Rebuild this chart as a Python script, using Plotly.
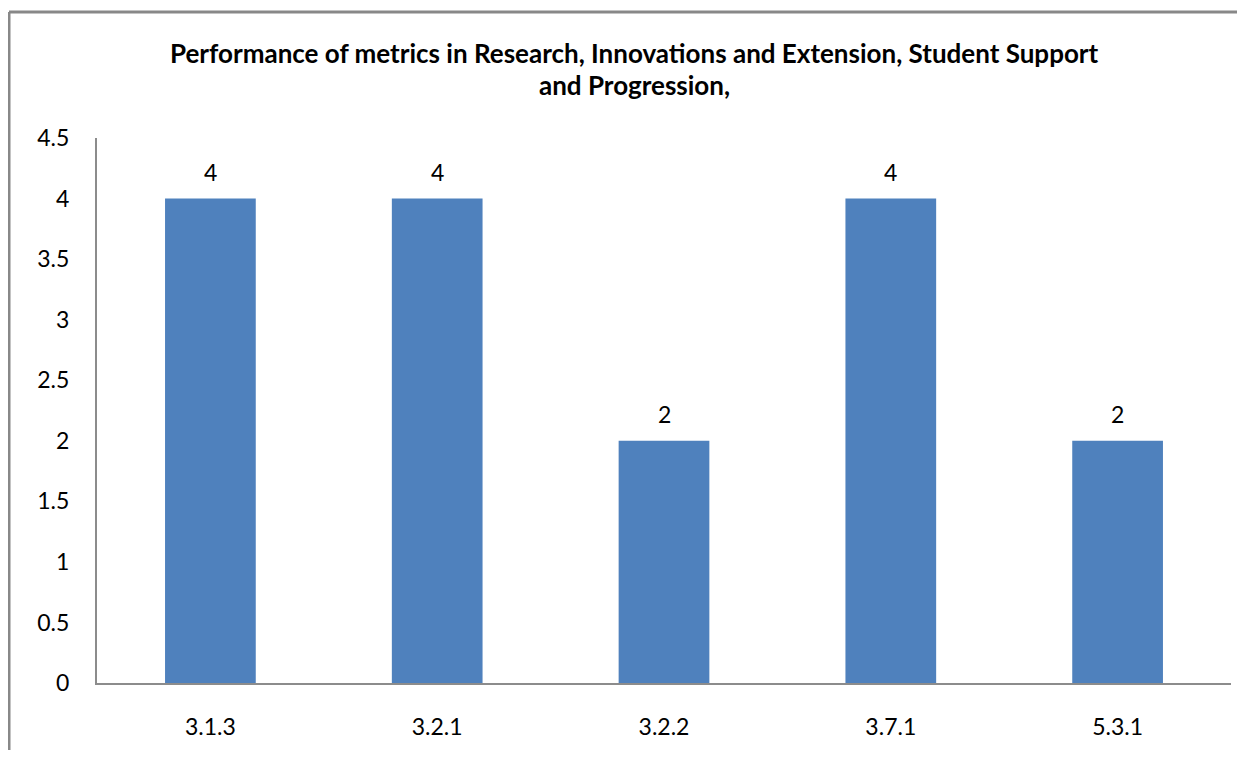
import plotly.graph_objects as go

# data
metrics = ["3.1.3", "3.2.1", "3.2.2", "3.7.1", "5.3.1"]
scores = [4, 4, 2, 4, 2]
y_ticks = [0, 0.5, 1, 1.5, 2, 2.5, 3, 3.5, 4, 4.5]

title_lines = [
    "Performance of metrics in Research, Innovations and Extension, Student Support",
    "and Progression,",
]

fig = go.Figure()
fig.add_trace(go.Bar(
    x=metrics,
    y=scores,
    marker=dict(color="#4F81BD", line=dict(width=0)),
))

# value labels above bars
for m, s in zip(metrics, scores):
    fig.add_annotation(x=m, y=s, text=f"{s}", showarrow=False,
                       yanchor="middle", yshift=27,
                       font=dict(size=23, color="black"))

# the page has an 8px body margin, so the figure is sized to fit the window
fig.update_layout(
    width=1229,
    height=742,
    paper_bgcolor="white",
    plot_bgcolor="white",
    font=dict(family="Lato, Open Sans, sans-serif", size=23, color="black"),
    margin=dict(l=89, r=6, t=130, b=67),
    bargap=0.6,
    showlegend=False,
)

fig.update_xaxes(
    showline=True, linecolor="#8c8c8c", linewidth=2,
    showgrid=False, ticks="", ticklabelstandoff=22,
)
fig.update_yaxes(
    range=[0, 4.5], tickvals=y_ticks, ticktext=[f"{v:g}" for v in y_ticks],
    showline=True, linecolor="#8c8c8c", linewidth=2,
    showgrid=False, zeroline=False, ticks="", ticklabelstandoff=21,
)

# title, one annotation per line
for i, line in enumerate(title_lines):
    fig.add_annotation(
        text="<b>" + line + "</b>",
        xref="paper", yref="paper", x=0.474, y=1.0, yshift=85 - 32 * i,
        xanchor="center", yanchor="middle", showarrow=False,
        font=dict(size=26, color="black"),
    )

# outer frame (top and left edges only)
fig.add_shape(type="line", xref="paper", yref="paper",
              x0=-0.0776, x1=1.02, y0=1.231, y1=1.231,
              line=dict(color="#888888", width=3))
fig.add_shape(type="line", xref="paper", yref="paper",
              x0=-0.0776, x1=-0.0776, y0=1.231, y1=-0.15,
              line=dict(color="#888888", width=3))

fig.write_html("out.html")
